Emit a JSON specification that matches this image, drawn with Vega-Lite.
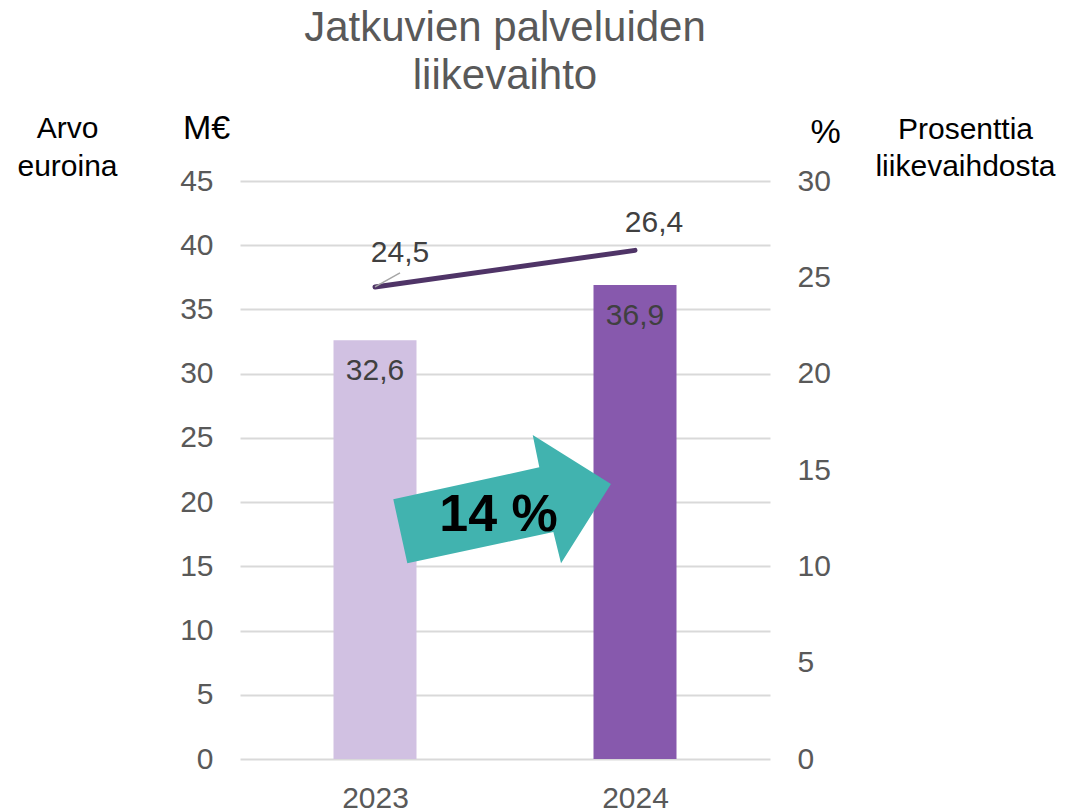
{
  "$schema": "https://vega.github.io/schema/vega-lite/v6.json",
  "width": 530,
  "height": 578,
  "autosize": {"type": "none"},
  "padding": {"left": 240, "top": 181, "right": 298, "bottom": 53},
  "background": "white",
  "title": {
    "text": ["Jatkuvien palveluiden", "liikevaihto"],
    "font": "Liberation Sans",
    "fontSize": 42,
    "fontWeight": "normal",
    "color": "#595959",
    "anchor": "middle",
    "frame": "group",
    "lineHeight": 48,
    "offset": 13
  },
  "data": {
    "values": [
      {"year": 2023, "value": 32.6, "share": 24.5},
      {"year": 2024, "value": 36.9, "share": 26.4}
    ]
  },
  "encoding": {
    "x": {
      "field": "year",
      "type": "quantitative",
      "scale": {"domain": [2022.5, 2024.5], "nice": false, "zero": false},
      "axis": {
        "values": [2023, 2024],
        "format": "d",
        "title": null,
        "grid": false,
        "domain": false,
        "ticks": false,
        "tickSize": 0,
        "labelPadding": 24,
        "labelFontSize": 30,
        "labelColor": "#595959",
        "labelFont": "Liberation Sans"
      }
    }
  },
  "layer": [
    {
      "encoding": {
        "y": {
          "field": "value",
          "type": "quantitative",
          "scale": {"domain": [0, 45], "nice": false},
          "axis": {
            "orient": "left",
            "values": [0, 5, 10, 15, 20, 25, 30, 35, 40, 45],
            "format": "d",
            "grid": true,
            "gridColor": "#D9D9D9",
            "gridWidth": 2,
            "domain": false,
            "ticks": false,
            "tickSize": 0,
            "labelPadding": 27,
            "labelFontSize": 30,
            "labelColor": "#595959",
            "labelFont": "Liberation Sans",
            "title": "M€",
            "titleFont": "Liberation Sans",
            "titleFontSize": 34,
            "titleFontWeight": "normal",
            "titleColor": "#000000",
            "titleAngle": 0,
            "titleAlign": "center",
            "titleBaseline": "alphabetic",
            "titleX": -34,
            "titleY": -43
          }
        }
      },
      "layer": [
        {
          "mark": {"type": "bar", "orient": "vertical", "width": 83},
          "encoding": {
            "color": {
              "field": "year",
              "type": "ordinal",
              "scale": {"domain": [2023, 2024], "range": ["#D1C1E2", "#8759AD"]},
              "legend": null
            }
          }
        },
        {
          "mark": {
            "type": "text",
            "baseline": "alphabetic",
            "align": "center",
            "dy": 40,
            "fontSize": 30,
            "font": "Liberation Sans",
            "color": "#404040"
          },
          "encoding": {
            "text": {"field": "value", "type": "quantitative", "format": ".1f"}
          }
        },
        {
          "data": {"values": [{"year": 2023.5, "value": 20, "label": "14 %"}]},
          "layer": [
            {
              "mark": {
                "type": "point",
                "shape": "M-0.814,0.510L-0.931,-0.023L0.286,-0.290L0.231,-0.559L0.883,-0.151L0.467,0.510L0.403,0.249Z",
                "filled": true,
                "size": 57600,
                "opacity": 1,
                "strokeWidth": 0,
                "color": "#41B3AF"
              },
              "encoding": {}
            },
            {
              "mark": {
                "type": "text",
                "align": "center",
                "baseline": "alphabetic",
                "dx": -6.5,
                "dy": 28.6,
                "fontSize": 52,
                "fontWeight": "bold",
                "font": "Liberation Sans",
                "color": "#000000"
              },
              "encoding": {
                "text": {"field": "label", "type": "nominal"}
              }
            }
          ]
        }
      ]
    },
    {
      "encoding": {
        "y": {
          "field": "share",
          "type": "quantitative",
          "scale": {"domain": [0, 30], "nice": false},
          "axis": {
            "orient": "right",
            "values": [0, 5, 10, 15, 20, 25, 30],
            "format": "d",
            "grid": false,
            "domain": false,
            "ticks": false,
            "tickSize": 0,
            "labelPadding": 27,
            "labelFontSize": 30,
            "labelColor": "#595959",
            "labelFont": "Liberation Sans",
            "title": "%",
            "titleFont": "Liberation Sans",
            "titleFontSize": 34,
            "titleFontWeight": "normal",
            "titleColor": "#000000",
            "titleAngle": 0,
            "titleAlign": "center",
            "titleBaseline": "alphabetic",
            "titleX": 55,
            "titleY": -39
          }
        }
      },
      "layer": [
        {
          "mark": {"type": "line", "color": "#4F3467", "strokeWidth": 5, "strokeCap": "round"},
          "encoding": {}
        },
        {
          "transform": [{"filter": "datum.year === 2023"}],
          "mark": {
            "type": "point",
            "shape": "M0,0L1,-0.56",
            "filled": false,
            "size": 2500,
            "opacity": 1,
            "strokeWidth": 1.5,
            "color": "#A6A6A6"
          },
          "encoding": {}
        },
        {
          "transform": [{"filter": "datum.year === 2023"}],
          "mark": {
            "type": "text",
            "align": "center",
            "baseline": "alphabetic",
            "dx": 25,
            "dy": -25,
            "fontSize": 30,
            "font": "Liberation Sans",
            "color": "#404040"
          },
          "encoding": {"text": {"field": "share", "type": "quantitative", "format": ".1f"}}
        },
        {
          "transform": [{"filter": "datum.year === 2024"}],
          "mark": {
            "type": "text",
            "align": "center",
            "baseline": "alphabetic",
            "dx": 19,
            "dy": -18,
            "fontSize": 30,
            "font": "Liberation Sans",
            "color": "#404040"
          },
          "encoding": {"text": {"field": "share", "type": "quantitative", "format": ".1f"}}
        }
      ]
    },
    {
      "mark": {"type": "point", "opacity": 0},
      "encoding": {
        "y": {
          "field": "value",
          "type": "quantitative",
          "scale": {"domain": [0, 45], "nice": false},
          "axis": {
            "orient": "left",
            "labels": false,
            "ticks": false,
            "domain": false,
            "grid": false,
            "title": ["Arvo", "euroina"],
            "titleFont": "Liberation Sans",
            "titleFontSize": 30,
            "titleFontWeight": "normal",
            "titleColor": "#000000",
            "titleAngle": 0,
            "titleAlign": "center",
            "titleBaseline": "alphabetic",
            "titleLineHeight": 38,
            "titleX": -173,
            "titleY": -44
          }
        }
      }
    },
    {
      "mark": {"type": "point", "opacity": 0},
      "encoding": {
        "y": {
          "field": "share",
          "type": "quantitative",
          "scale": {"domain": [0, 30], "nice": false},
          "axis": {
            "orient": "right",
            "labels": false,
            "ticks": false,
            "domain": false,
            "grid": false,
            "title": ["Prosenttia", "liikevaihdosta"],
            "titleFont": "Liberation Sans",
            "titleFontSize": 30,
            "titleFontWeight": "normal",
            "titleColor": "#000000",
            "titleAngle": 0,
            "titleAlign": "center",
            "titleBaseline": "alphabetic",
            "titleLineHeight": 37,
            "titleX": 195,
            "titleY": -43
          }
        }
      }
    }
  ],
  "resolve": {"scale": {"y": "independent"}},
  "config": {
    "locale": {
      "number": {
        "decimal": ",",
        "thousands": " ",
        "grouping": [3],
        "currency": ["", " €"]
      }
    },
    "view": {"stroke": null},
    "font": "Liberation Sans"
  }
}
